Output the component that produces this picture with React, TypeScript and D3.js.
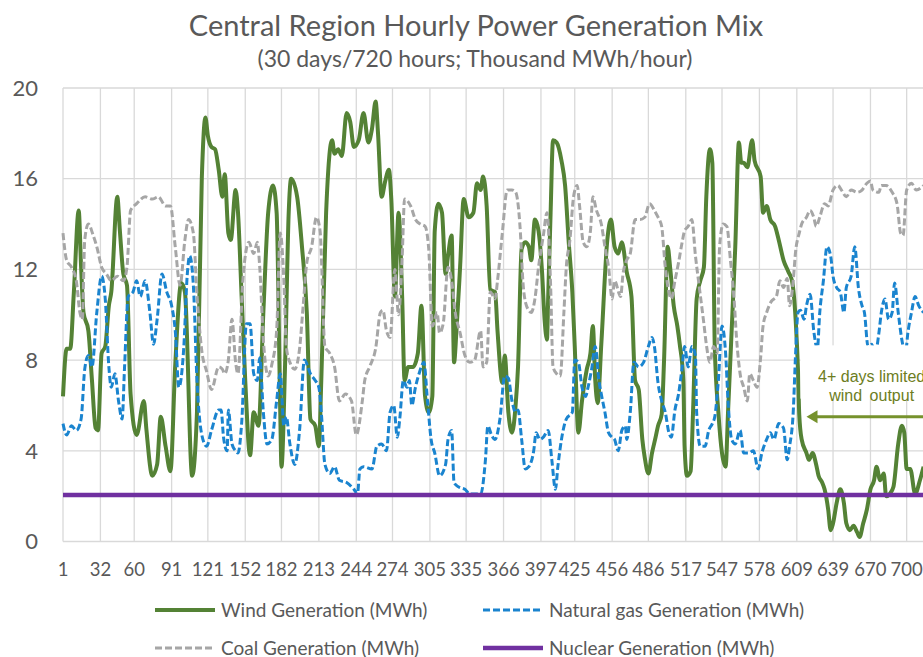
import React, { useEffect } from 'react';
import * as d3 from 'd3';

// x axis: hour index, labelled at these positions
const hourTicks = [1, 32, 60, 91, 121, 152, 182, 213, 244, 274, 305, 335, 366, 397, 425, 456, 486, 517, 547, 578, 609, 639, 670, 700];
const valueTicks = [0, 4, 8, 12, 16, 20];

// values (thousand MWh/hour) at the turning points of each line
const windHours = [1, 4, 7, 10, 14, 16, 18, 22, 25, 28, 30, 33, 36, 39, 41, 46, 48, 51, 54, 57, 62, 68, 70, 75, 79, 82, 86, 90, 94, 99, 102, 108, 112, 116, 119, 121, 124, 127, 130, 133, 135, 138, 140, 144, 146, 149, 152, 156, 159, 163, 167, 171, 175, 178, 181, 182, 185, 188, 190, 195, 199, 203, 206, 210, 213, 215, 219, 224, 226, 229, 232, 236, 239, 242, 246, 250, 254, 257, 260, 262, 265, 268, 271, 273, 276, 279, 282, 284, 287, 291, 295, 298, 301, 304, 307, 309, 312, 315, 318, 320, 323, 325, 327, 330, 333, 337, 341, 344, 347, 349, 352, 355, 359, 361, 365, 367, 370, 373, 376, 378, 381, 384, 387, 389, 392, 395, 398, 400, 402, 403, 405, 407, 410, 414, 417, 420, 423, 425, 428, 431, 435, 438, 440, 442, 444, 447, 452, 455, 458, 461, 464, 468, 472, 475, 478, 481, 483, 486, 489, 492, 494, 497, 499, 502, 504, 507, 510, 512, 515, 516, 518, 521, 523, 526, 529, 532, 534, 537, 539, 541, 544, 547, 550, 552, 555, 558, 561, 563, 565, 568, 572, 574, 579, 581, 584, 587, 591, 594, 598, 602, 605, 608, 610, 611, 613, 617, 619, 622, 625, 627, 630, 632, 635, 637, 639, 642, 645, 648, 650, 653, 656, 659, 661, 664, 667, 670, 673, 675, 678, 681, 683, 686, 689, 693, 696, 698, 700, 703, 707, 711, 714];
const windValues = [6.4, 8.5, 8.5, 11.0, 14.6, 12.1, 10.1, 9.3, 7.1, 5.0, 4.9, 8.3, 8.6, 10.4, 11.0, 15.2, 13.8, 11.8, 11.3, 6.5, 4.7, 6.2, 5.0, 2.9, 3.4, 5.5, 4.2, 3.1, 7.8, 11.4, 11.0, 2.9, 5.7, 16.0, 18.7, 17.9, 17.4, 17.3, 16.4, 15.2, 16.2, 13.6, 13.3, 15.5, 14.5, 10.8, 7.1, 3.8, 5.7, 5.1, 10.1, 14.5, 15.7, 14.5, 5.7, 3.3, 7.8, 14.5, 16.0, 15.2, 13.0, 10.1, 5.4, 5.1, 4.2, 7.1, 14.5, 17.7, 17.1, 17.3, 17.0, 18.9, 18.5, 17.4, 17.7, 18.9, 17.6, 18.2, 19.4, 18.0, 15.2, 15.9, 16.4, 15.1, 10.8, 14.5, 10.8, 7.1, 7.7, 7.7, 8.3, 10.4, 6.4, 5.7, 6.4, 13.7, 14.9, 14.5, 11.8, 12.6, 13.5, 7.9, 9.3, 12.1, 15.1, 14.3, 14.5, 15.8, 15.5, 16.1, 14.8, 11.1, 11.0, 9.3, 7.0, 8.2, 5.7, 4.8, 6.0, 7.7, 12.9, 13.2, 13.0, 12.4, 14.2, 13.7, 11.8, 9.8, 8.9, 10.8, 14.5, 17.7, 17.6, 16.8, 15.7, 13.2, 11.0, 8.6, 4.8, 6.2, 7.6, 8.3, 9.5, 7.1, 6.1, 8.7, 13.3, 14.2, 13.0, 12.7, 13.2, 11.9, 10.8, 7.1, 6.7, 4.5, 3.7, 3.0, 3.9, 4.6, 5.1, 5.6, 8.0, 13.0, 12.1, 10.4, 9.5, 8.7, 7.1, 4.2, 2.9, 3.1, 5.7, 10.7, 11.5, 12.1, 15.2, 17.3, 16.7, 8.6, 5.7, 3.9, 3.3, 5.7, 9.3, 13.0, 17.6, 16.7, 16.7, 16.5, 17.7, 16.8, 16.1, 14.5, 14.8, 14.2, 13.9, 13.3, 12.4, 11.9, 11.5, 9.8, 7.5, 5.6, 4.5, 3.9, 3.6, 3.9, 3.4, 2.9, 2.6, 2.3, 1.4, 0.5, 0.8, 1.7, 2.3, 1.7, 0.8, 0.5, 0.7, 0.4, 0.2, 0.8, 1.4, 2.3, 2.7, 3.3, 2.7, 3.0, 2.0, 2.1, 2.4, 4.3, 5.1, 4.8, 3.2, 3.2, 2.1, 2.7, 3.3];

const gasHours = [1, 4, 8, 12, 16, 19, 22, 25, 29, 33, 36, 39, 41, 44, 47, 50, 52, 55, 59, 62, 65, 69, 73, 76, 79, 83, 87, 91, 94, 97, 101, 104, 106, 109, 112, 116, 120, 124, 130, 132, 134, 137, 138, 141, 144, 146, 149, 153, 156, 159, 162, 164, 167, 170, 174, 178, 181, 184, 186, 189, 193, 197, 201, 206, 210, 213, 215, 218, 222, 226, 230, 236, 242, 245, 247, 250, 257, 261, 265, 269, 272, 275, 278, 280, 283, 286, 288, 290, 293, 296, 300, 303, 306, 309, 313, 318, 320, 323, 325, 329, 334, 338, 342, 347, 351, 353, 356, 359, 363, 367, 370, 373, 376, 378, 381, 384, 387, 391, 393, 396, 399, 403, 406, 409, 411, 414, 418, 423, 425, 428, 431, 434, 436, 439, 442, 445, 447, 450, 453, 456, 458, 461, 464, 467, 468, 471, 474, 478, 482, 486, 489, 491, 494, 497, 500, 503, 505, 508, 511, 514, 516, 519, 522, 525, 526, 529, 533, 536, 539, 541, 544, 547, 550, 552, 555, 558, 562, 565, 569, 573, 577, 580, 584, 587, 590, 594, 598, 601, 603, 606, 608, 610, 612, 615, 617, 620, 623, 626, 628, 631, 634, 637, 639, 642, 645, 648, 650, 654, 657, 660, 663, 665, 668, 671, 674, 677, 679, 682, 685, 688, 690, 693, 696, 699, 701, 704, 707, 710, 714];
const gasValues = [5.2, 4.7, 5.1, 4.9, 5.4, 7.6, 8.2, 7.7, 10.1, 11.7, 10.7, 7.7, 6.8, 7.4, 6.2, 5.4, 7.7, 10.8, 11.0, 11.5, 10.8, 11.5, 10.1, 8.7, 9.8, 11.8, 11.0, 10.4, 9.3, 6.8, 8.5, 11.8, 12.6, 11.3, 7.1, 4.7, 4.2, 4.9, 5.8, 5.8, 4.6, 4.0, 5.8, 4.3, 4.0, 3.9, 5.2, 9.6, 9.6, 7.4, 7.1, 8.1, 5.7, 4.3, 4.5, 6.2, 7.4, 5.1, 5.5, 4.3, 3.4, 4.9, 8.0, 7.4, 7.1, 6.8, 5.7, 3.4, 3.0, 3.3, 2.7, 2.6, 2.3, 2.1, 3.2, 3.3, 3.2, 4.2, 4.3, 4.0, 5.7, 6.0, 4.6, 5.4, 7.1, 6.8, 7.1, 6.0, 6.8, 7.4, 7.9, 6.2, 4.5, 3.9, 2.9, 3.4, 4.5, 4.9, 2.6, 2.4, 2.3, 2.1, 2.1, 2.1, 3.6, 5.1, 4.7, 4.5, 5.4, 7.3, 7.2, 6.2, 5.7, 5.8, 4.5, 3.2, 3.3, 4.0, 4.8, 4.5, 4.6, 4.9, 3.6, 2.3, 3.3, 4.5, 5.4, 5.7, 8.0, 7.9, 6.8, 6.4, 6.8, 7.6, 8.6, 7.1, 6.5, 5.7, 4.8, 4.6, 4.5, 4.0, 4.9, 5.1, 4.5, 5.7, 7.9, 7.7, 7.9, 8.6, 9.0, 8.6, 7.0, 6.2, 5.7, 4.8, 4.6, 5.8, 6.5, 7.7, 8.6, 7.7, 8.6, 8.2, 5.7, 4.2, 4.2, 4.9, 5.2, 5.5, 7.1, 9.5, 8.3, 6.2, 4.5, 4.3, 4.9, 3.9, 3.9, 4.0, 3.2, 3.9, 4.5, 4.8, 4.5, 5.2, 5.0, 3.6, 4.2, 5.7, 8.3, 10.1, 10.2, 9.8, 10.4, 10.9, 9.3, 8.5, 10.1, 11.5, 13.0, 12.6, 11.7, 11.2, 11.0, 10.1, 11.2, 11.7, 13.0, 11.2, 10.4, 10.1, 8.6, 8.7, 8.3, 9.2, 10.1, 10.7, 9.8, 10.1, 11.4, 10.1, 8.9, 8.3, 9.2, 10.1, 10.8, 10.4, 10.1];

const coalHours = [1, 4, 8, 12, 15, 17, 19, 22, 26, 29, 33, 37, 41, 46, 51, 54, 57, 62, 69, 75, 80, 86, 90, 94, 98, 102, 105, 109, 112, 116, 120, 124, 130, 133, 135, 138, 141, 144, 146, 150, 155, 159, 162, 164, 167, 171, 174, 178, 181, 184, 186, 189, 193, 197, 200, 203, 207, 211, 214, 218, 222, 226, 230, 235, 240, 244, 249, 251, 255, 260, 264, 266, 269, 272, 276, 279, 282, 284, 289, 293, 297, 301, 304, 307, 311, 313, 316, 320, 323, 326, 330, 334, 338, 342, 347, 349, 352, 355, 359, 361, 365, 369, 373, 376, 380, 382, 385, 389, 392, 395, 399, 402, 405, 407, 410, 413, 416, 418, 421, 424, 427, 429, 432, 435, 438, 440, 443, 447, 450, 453, 456, 458, 463, 465, 468, 471, 475, 479, 483, 487, 491, 494, 497, 500, 503, 505, 508, 511, 514, 516, 519, 522, 525, 528, 532, 534, 537, 540, 543, 545, 548, 551, 554, 557, 559, 562, 565, 568, 570, 573, 576, 579, 581, 584, 588, 592, 595, 598, 601, 603, 606, 608, 611, 613, 617, 620, 623, 625, 628, 632, 635, 639, 643, 646, 650, 654, 659, 663, 667, 670, 672, 677, 679, 683, 688, 692, 695, 697, 700, 704, 708, 714];
const coalValues = [13.6, 12.4, 12.1, 11.5, 10.1, 9.8, 13.3, 14.0, 13.5, 13.0, 12.1, 11.8, 11.5, 11.7, 11.5, 12.1, 14.6, 14.9, 15.2, 15.1, 15.2, 14.8, 14.8, 13.0, 11.3, 13.3, 14.2, 13.6, 10.9, 8.4, 7.5, 6.7, 7.7, 7.6, 7.4, 8.0, 9.8, 7.9, 7.4, 11.5, 13.2, 12.7, 13.2, 12.1, 8.9, 7.3, 7.8, 9.3, 13.6, 11.5, 8.6, 7.9, 7.6, 8.5, 10.4, 12.3, 13.0, 14.3, 13.7, 8.6, 8.3, 7.7, 6.2, 6.5, 6.2, 4.7, 6.2, 7.1, 7.7, 8.5, 10.1, 10.2, 9.3, 9.0, 12.0, 10.0, 12.5, 15.1, 14.8, 14.2, 14.0, 13.9, 12.9, 9.5, 10.1, 9.2, 9.6, 12.1, 11.5, 10.1, 9.2, 8.2, 7.9, 8.0, 9.3, 7.7, 7.9, 11.0, 10.7, 11.5, 13.6, 15.5, 15.5, 15.4, 13.6, 11.5, 10.4, 10.1, 10.7, 12.1, 13.5, 14.5, 11.3, 7.7, 7.4, 7.3, 10.1, 12.1, 13.3, 15.2, 15.7, 14.8, 13.2, 13.0, 13.7, 15.2, 14.6, 14.0, 13.0, 12.1, 10.7, 11.5, 10.8, 11.8, 12.4, 12.7, 14.2, 14.2, 14.3, 14.9, 14.6, 14.3, 13.9, 12.1, 11.0, 10.7, 11.5, 12.3, 13.2, 13.7, 13.9, 14.2, 12.6, 11.3, 9.6, 8.7, 7.9, 8.6, 8.3, 13.0, 14.0, 13.9, 12.4, 10.7, 9.0, 7.4, 6.8, 6.2, 7.4, 7.1, 6.8, 8.1, 9.5, 10.1, 10.6, 10.8, 11.5, 11.2, 11.6, 10.4, 11.5, 12.8, 13.6, 14.0, 14.3, 14.6, 14.3, 13.9, 14.3, 14.9, 14.8, 15.5, 15.7, 15.5, 15.2, 15.5, 15.4, 15.5, 15.8, 15.9, 15.5, 15.4, 15.7, 15.7, 15.4, 14.9, 13.6, 13.5, 15.5, 15.8, 15.5, 15.7];

const nuclearHours = [1, 120, 240, 360, 480, 600, 720];
const nuclearValues = [2.05, 2.05, 2.05, 2.05, 2.05, 2.05, 2.05];

const series = [
  { name: 'Wind Generation (MWh)', hours: windHours, values: windValues, color: '#548235', width: 4, dash: null },
  { name: 'Natural gas Generation (MWh)', hours: gasHours, values: gasValues, color: '#1a84cf', width: 3, dash: '7,3' },
  { name: 'Coal Generation (MWh)', hours: coalHours, values: coalValues, color: '#a6a6a6', width: 3, dash: '7,3' },
  { name: 'Nuclear Generation (MWh)', hours: nuclearHours, values: nuclearValues, color: '#7030a0', width: 4.3, dash: null },
];

const W = 923;
const H = 657;
const font = "Lato, 'Open Sans', sans-serif";
const textColor = '#595959';

export default function App() {
  useEffect(() => {
    document.body.style.margin = '0';
  }, []);

  const x = d3.scaleLinear().domain([1, 720]).range([63, 930.8]);
  const y = d3.scaleLinear().domain([0, 20]).range([541.5, 88]);

  const line = d3.line<[number, number]>()
    .x(d => x(d[0]))
    .y(d => y(d[1]))
    .curve(d3.curveMonotoneX);

  // legend slots, two columns
  const legendPos = [
    { lx: 155, ly: 610 },
    { lx: 483, ly: 610 },
    { lx: 155, ly: 648 },
    { lx: 483, ly: 648 },
  ];

  const arrowY = y(5.5);

  return (
    <svg width={W} height={H} style={{ display: 'block', position: 'absolute', left: 0, top: 0, background: '#fff' }}>
      <text x={476} y={36} textAnchor="middle" fontFamily={font} fontSize={29} fill={textColor}>
        Central Region Hourly Power Generation Mix
      </text>
      <text x={475} y={67} textAnchor="middle" fontFamily={font} fontSize={23} fill={textColor}>
        (30 days/720 hours; Thousand MWh/hour)
      </text>

      {/* grid */}
      <g stroke="#d9d9d9" strokeWidth={1.3}>
        {valueTicks.map(v => (
          <line key={'h' + v} x1={x(1)} x2={x(720)} y1={y(v)} y2={y(v)} />
        ))}
        {hourTicks.map(h => (
          <line key={'v' + h} x1={x(h)} x2={x(h)} y1={y(0)} y2={y(20)} />
        ))}
      </g>

      {valueTicks.map(v => (
        <text key={'yl' + v} x={38} y={y(v)} dy="0.35em" textAnchor="end" fontFamily={font} fontSize={22} fill={textColor}>
          {v}
        </text>
      ))}
      {hourTicks.map(h => (
        <text key={'xl' + h} x={x(h)} y={576} textAnchor="middle" fontFamily={font} fontSize={18.5} fill={textColor}>
          {h}
        </text>
      ))}

      {series.map(s => (
        <path
          key={s.name}
          d={line(s.hours.map((h, i) => [h, s.values[i]] as [number, number])) || ''}
          fill="none"
          stroke={s.color}
          strokeWidth={s.width}
          strokeDasharray={s.dash || undefined}
          strokeLinejoin="round"
        />
      ))}

      {/* annotation */}
      <rect x={x(612)} y={y(8.65)} width={140} height={y(6.3) - y(8.65)} fill="#fff" />
      <text x={x(671)} y={y(7.05)} textAnchor="middle" fontFamily="'Liberation Sans', Arial, sans-serif" fontSize={16} fill="#6d7d22">
        4+ days limited
      </text>
      <text x={x(671)} y={y(6.2)} textAnchor="middle" fontFamily="'Liberation Sans', Arial, sans-serif" fontSize={16} fill="#6d7d22" wordSpacing={3}>
        wind output
      </text>
      <line x1={x(617) + 8} x2={x(735)} y1={arrowY} y2={arrowY} stroke="#76922c" strokeWidth={3} />
      <path d={`M${x(617)},${arrowY} l11,-6.5 l0,13 z`} fill="#76922c" />

      {/* legend */}
      {series.map((s, i) => (
        <g key={'lg' + s.name} transform={`translate(${legendPos[i].lx},${legendPos[i].ly})`}>
          <line x1={0} x2={60} y1={0} y2={0} stroke={s.color} strokeWidth={s.width} strokeDasharray={s.dash || undefined} />
          <text x={66} y={0} dy="0.35em" fontFamily={font} fontSize={19} fill={textColor}>
            {s.name}
          </text>
        </g>
      ))}
    </svg>
  );
}
